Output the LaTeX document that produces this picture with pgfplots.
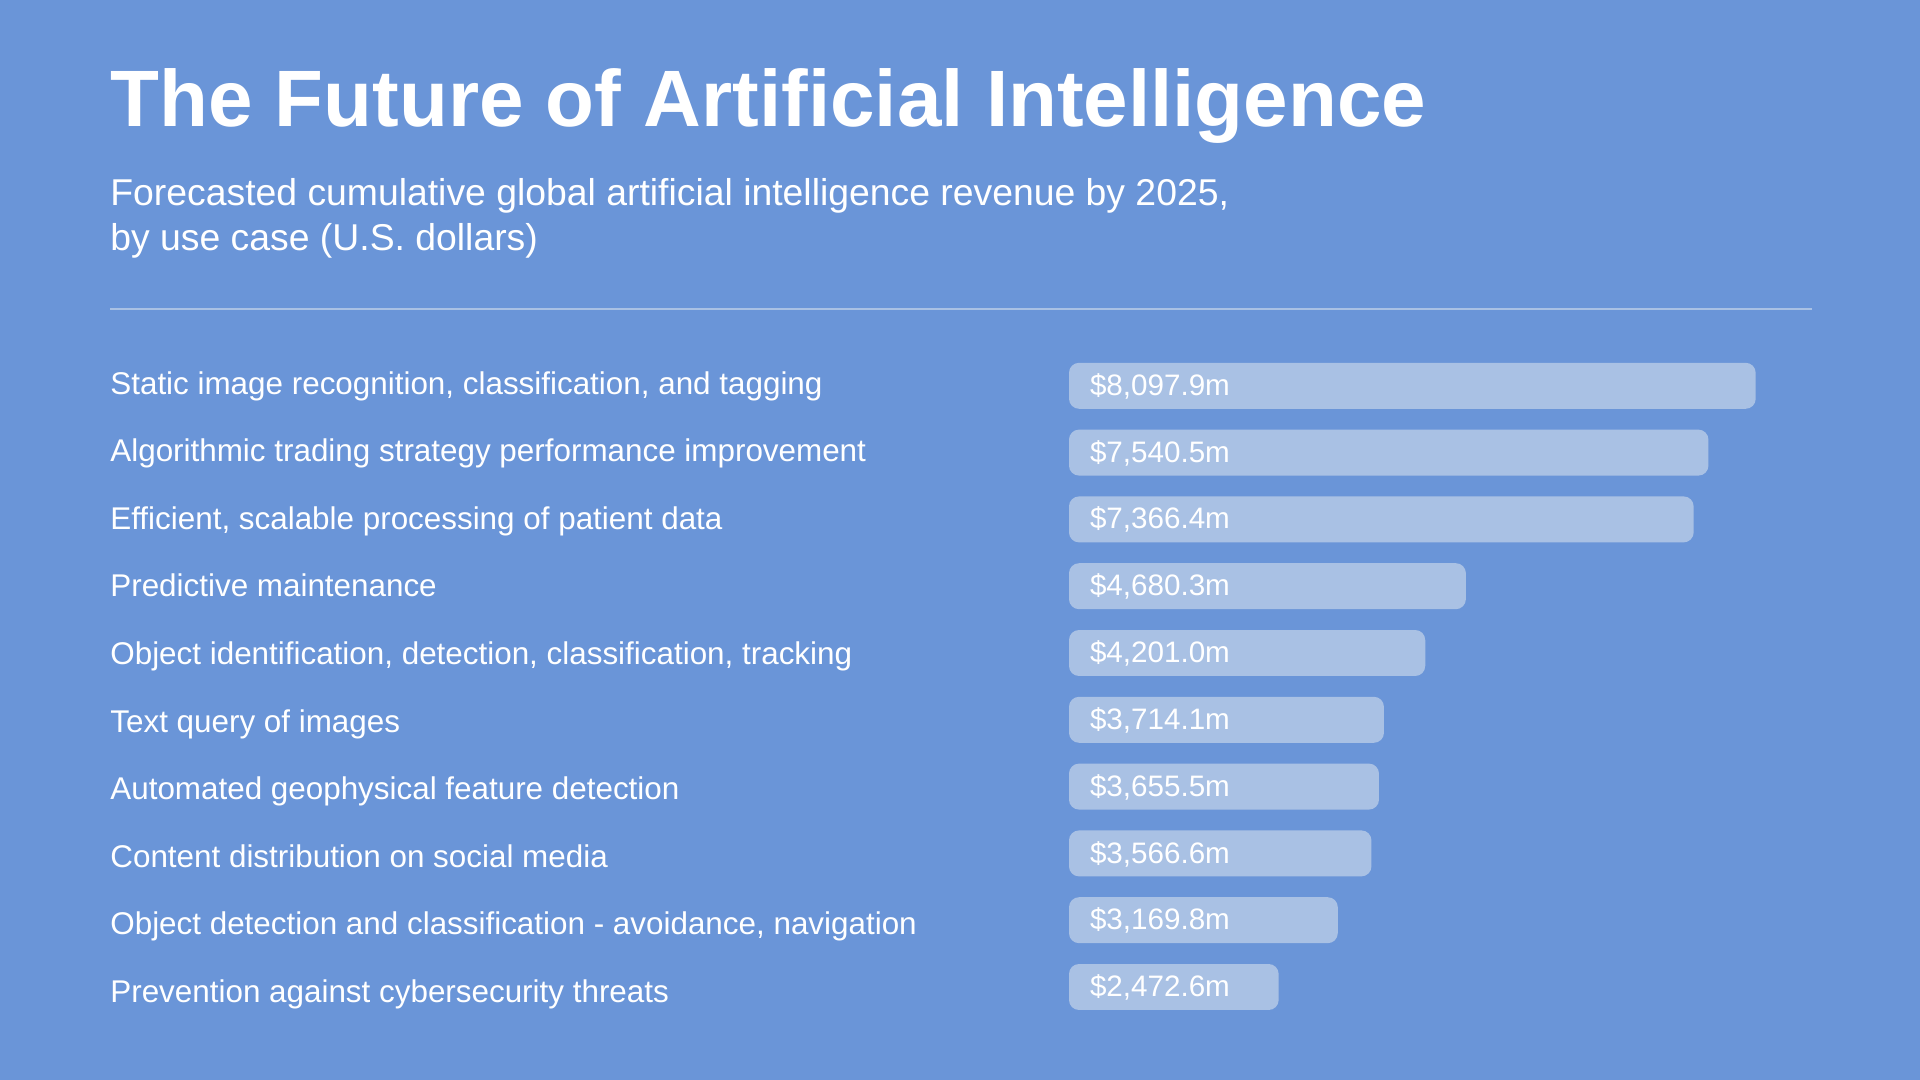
\documentclass[border=0pt]{standalone}
\usepackage{pgfplots}
\pgfplotsset{compat=1.18}
\usepackage{fontspec}
\setmainfont{Liberation Sans}
\definecolor{bg}{HTML}{6A95D8}
\definecolor{barcol}{HTML}{A9C1E4}
\begin{document}
\begin{tikzpicture}
\fill[bg] (0,0) rectangle (960pt,540pt);
\node[anchor=base west, inner sep=0pt, text=white, font=\fontsize{40}{44}\selectfont\bfseries] at (55pt,476.7pt) {The Future of Artificial Intelligence};
\node[anchor=base west, inner sep=0pt, text=white, font=\fontsize{18.67}{22}\selectfont] at (55pt,437.15pt) {Forecasted cumulative global artificial intelligence revenue by 2025,};
\node[anchor=base west, inner sep=0pt, text=white, font=\fontsize{18.67}{22}\selectfont] at (55pt,414.65pt) {by use case (U.S. dollars)};
\draw[barcol, line width=1pt] (55pt,385.5pt) -- (906pt,385.5pt);
\begin{axis}[
  at={(534.5pt,29.8pt)}, anchor=south west,
  scale only axis, width=424pt, height=334pt,
  xmin=0, xmax=10000, ymin=-0.5, ymax=9.5,
  y dir=reverse,
  clip=false,
  axis line style={draw=none},
  major tick length=0pt,
  xtick=\empty,
  ytick={0,1.0117,2.0234,3.0351,4.0468,5.0585,6.0702,7.0819,8.0936,9.1053},
  yticklabels={
    {Static image recognition, classification, and tagging},
    {Algorithmic trading strategy performance improvement},
    {Efficient, scalable processing of patient data},
    {Predictive maintenance},
    {Object identification, detection, classification, tracking},
    {Text query of images},
    {Automated geophysical feature detection},
    {Content distribution on social media},
    {Object detection and classification - avoidance, navigation},
    {Prevention against cybersecurity threats}},
  yticklabel style={anchor=base west, inner sep=0pt, xshift=-479.5pt, yshift=-4.15pt, text=white, font=\fontsize{15.7}{18}\selectfont},
]
\addplot[fill=barcol, draw=none, rounded corners=5pt] coordinates {(0,-0.344) (8097.9,-0.344) (8097.9,0.344) (0,0.344)} --cycle;
\addplot[fill=barcol, draw=none, rounded corners=5pt] coordinates {(0,0.656) (7540.5,0.656) (7540.5,1.344) (0,1.344)} --cycle;
\addplot[fill=barcol, draw=none, rounded corners=5pt] coordinates {(0,1.656) (7366.4,1.656) (7366.4,2.344) (0,2.344)} --cycle;
\addplot[fill=barcol, draw=none, rounded corners=5pt] coordinates {(0,2.656) (4680.3,2.656) (4680.3,3.344) (0,3.344)} --cycle;
\addplot[fill=barcol, draw=none, rounded corners=5pt] coordinates {(0,3.656) (4201.0,3.656) (4201.0,4.344) (0,4.344)} --cycle;
\addplot[fill=barcol, draw=none, rounded corners=5pt] coordinates {(0,4.656) (3714.1,4.656) (3714.1,5.344) (0,5.344)} --cycle;
\addplot[fill=barcol, draw=none, rounded corners=5pt] coordinates {(0,5.656) (3655.5,5.656) (3655.5,6.344) (0,6.344)} --cycle;
\addplot[fill=barcol, draw=none, rounded corners=5pt] coordinates {(0,6.656) (3566.6,6.656) (3566.6,7.344) (0,7.344)} --cycle;
\addplot[fill=barcol, draw=none, rounded corners=5pt] coordinates {(0,7.656) (3169.8,7.656) (3169.8,8.344) (0,8.344)} --cycle;
\addplot[fill=barcol, draw=none, rounded corners=5pt] coordinates {(0,8.656) (2472.6,8.656) (2472.6,9.344) (0,9.344)} --cycle;
\addplot[draw=none, mark=none, nodes near coords, point meta=explicit symbolic,
  every node near coord/.style={anchor=base west, inner sep=0pt, xshift=10.3pt, yshift=-4.8pt, text=white, font=\fontsize{14.8}{18}\selectfont}]
  coordinates {
    (0,0) [\$8,097.9m]
    (0,1) [\$7,540.5m]
    (0,2) [\$7,366.4m]
    (0,3) [\$4,680.3m]
    (0,4) [\$4,201.0m]
    (0,5) [\$3,714.1m]
    (0,6) [\$3,655.5m]
    (0,7) [\$3,566.6m]
    (0,8) [\$3,169.8m]
    (0,9) [\$2,472.6m]
  };
\end{axis}
\end{tikzpicture}
\end{document}
